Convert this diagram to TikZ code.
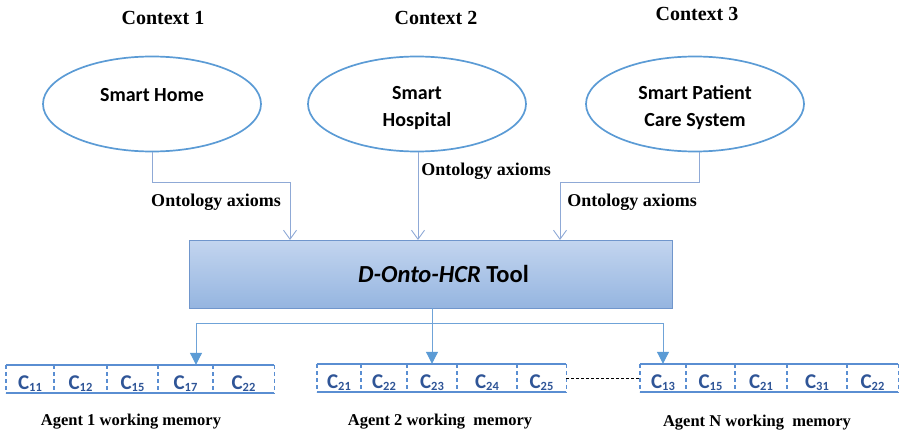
\documentclass[tikz,border=0pt]{standalone}
\usepackage{fontspec}
\setmainfont{Liberation Serif}
\newfontfamily\calfont{Carlito}
\usetikzlibrary{shapes.geometric,arrows.meta}

\definecolor{ellblue}{HTML}{5B9BD5}
\definecolor{axline}{HTML}{8FA9D6}
\definecolor{boxtop}{HTML}{C3D5EF}
\definecolor{boxbot}{HTML}{95B5E0}
\definecolor{boxedge}{HTML}{7096CC}
\definecolor{busblue}{HTML}{6FA3D8}
\definecolor{tipblue}{HTML}{5B9BD5}
\definecolor{memblue}{HTML}{5A8ED2}
\definecolor{celltext}{HTML}{2F5597}

\newcommand\lowsub[1]{\raisebox{-0.2ex}{\fontsize{12.5}{12.5}\selectfont #1}}

\tikzset{
  ctxlabel/.style={font=\bfseries\fontsize{20}{20}\selectfont},
  axlabel/.style={font=\bfseries\fontsize{18}{18}\selectfont},
  agentlabel/.style={font=\bfseries\fontsize{16.5}{16.5}\selectfont},
  ctxellipse/.style={ellipse, draw=ellblue, line width=1.7pt, minimum width=218pt,
    minimum height=95pt, inner sep=0pt, align=center,
    font=\calfont\bfseries\fontsize{20}{27}\selectfont},
  axline/.style={draw=axline, line width=0.9pt, -{Straight Barb[length=9pt,width=13pt]}},
  tool/.style={rectangle, draw=boxedge, line width=0.9pt, top color=boxtop, bottom color=boxbot,
    minimum width=483pt, minimum height=68pt, inner sep=0pt,
    font=\calfont\bfseries\fontsize{24.5}{24.5}\selectfont},
  bus/.style={draw=busblue, line width=1pt},
  busarrow/.style={bus, -{Triangle[length=12pt,width=12pt,color=tipblue]}},
  memframe/.style={rectangle, inner sep=0pt, minimum height=28pt},
  memline/.style={draw=memblue, line width=1.5pt},
  memdash/.style={draw=memblue, line width=1.1pt, dash pattern=on 4pt off 3pt},
  cell/.style={inner sep=0pt, anchor=base, text=celltext, font=\calfont\bfseries\fontsize{21}{21}\selectfont},
}

\begin{document}
\begin{tikzpicture}[x=1pt, y=-1pt]
  \useasboundingbox (0,0) rectangle (904,433);

  % contexts
  \node[ctxlabel] (ctx1) at (163,18) {Context 1};
  \node[ctxlabel] (ctx2) at (436,18) {Context 2};
  \node[ctxlabel] (ctx3) at (697,14) {Context 3};

  \node[ctxellipse] (e1) at (152,104) {\rule[-18pt]{0pt}{18pt}Smart Home};
  \node[ctxellipse] (e2) at (417,104) {\rule{0pt}{22pt}Smart\\Hospital};
  \node[ctxellipse] (e3) at (695,104) {\rule{0pt}{22pt}Smart Patient\\Care System};

  % central tool
  \node[tool] (tool) at (430.5,274) {\hspace*{26pt}\textit{D-Onto-HCR} Tool};

  % axiom flows into the tool
  \coordinate (t1) at (290,240);
  \coordinate (t2) at (418,240);
  \coordinate (t3) at (560,240);
  \draw[axline] (e1.south) -- ++(0,30) -| (t1);
  \draw[axline] (e2.south -| t2) -- (t2);
  \draw[axline] (e3.south -| 699,0) -- ++(0,30) -| (t3);

  \node[axlabel] (ax1) at (216,202) {Ontology axioms};
  \node[axlabel] (ax2) at (486,171) {Ontology axioms};
  \node[axlabel] (ax3) at (632,202) {Ontology axioms};

  % working memories
  \node[memframe, minimum width=268pt] (mem1) at (140,379) {};
  \node[memframe, minimum width=249pt] (mem2) at (441.5,378) {};
  \node[memframe, minimum width=258pt] (mem3) at (769,378) {};

  \foreach \m in {mem1,mem2,mem3}{
    \draw[memline] (\m.north west) -- (\m.north east);
    \draw[memline] (\m.south west) -- (\m.south east);
  }

  \foreach \xa/\xb/\s [count=\i] in {6/54/11, 54/107/12, 107/158/15, 158/213/17, 213/274/22}{
    \draw[memdash] (\xa,365) -- (\xa,393);
    \node[cell] (m1c\i) at ({(\xa+\xb)/2},389) {C\lowsub{\s}};
  }
  \draw[memdash] (mem1.north east) -- (mem1.south east);

  \foreach \xa/\xb/\s [count=\i] in {317/361/21, 361/407/22, 407/457/23, 457/517/24, 517/566/25}{
    \draw[memdash] (\xa,364) -- (\xa,392);
    \node[cell] (m2c\i) at ({(\xa+\xb)/2},388) {C\lowsub{\s}};
  }
  \draw[memdash] (mem2.north east) -- (mem2.south east);

  \foreach \xa/\xb/\s [count=\i] in {640/686/13, 686/735/15, 735/787/21, 787/847/31, 847/898/22}{
    \draw[memdash] (\xa,364) -- (\xa,392);
    \node[cell] (m3c\i) at ({(\xa+\xb)/2},388) {C\lowsub{\s}};
  }
  \draw[memdash] (mem3.north east) -- (mem3.south east);

  % link between agent memories
  \draw[black, line width=0.8pt, dash pattern=on 3pt off 2pt] (mem2.east) -- (mem3.west);

  % distribution from the tool
  \coordinate (b1) at (196,323);
  \coordinate (b2) at (432,323);
  \coordinate (b3) at (663,323);
  \draw[bus] (tool.south -| b2) -- (b2);
  \draw[bus] (b1) -- (b3);
  \draw[busarrow] (b1) -- (b1 |- mem1.north);
  \draw[busarrow] (b2) -- (b2 |- mem2.north);
  \draw[busarrow] (b3) -- (b3 |- mem3.north);

  \node[agentlabel] (ag1) at (131,422) {Agent 1 working memory};
  \node[agentlabel] (ag2) at (440,422) {Agent 2 working\ \ memory};
  \node[agentlabel] (ag3) at (757,423) {Agent N working\ \ memory};
\end{tikzpicture}
\end{document}
